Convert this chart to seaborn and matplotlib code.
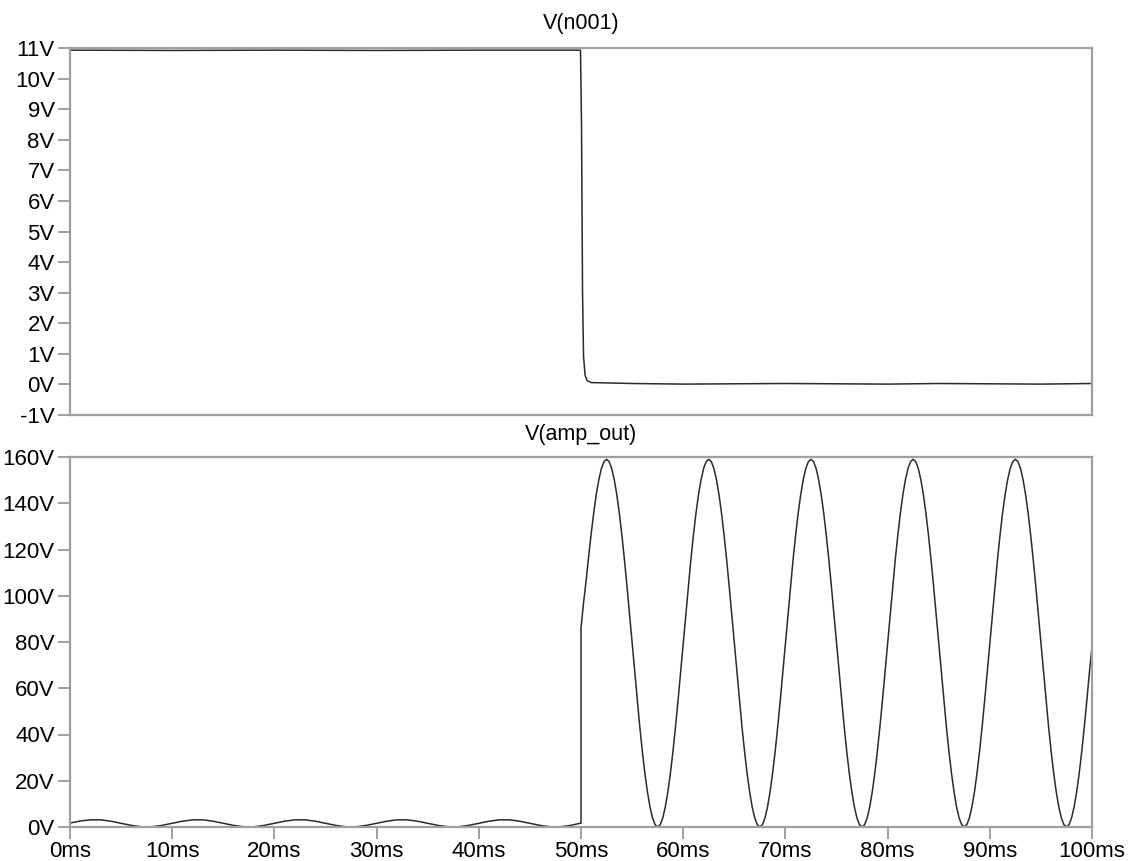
import matplotlib
matplotlib.use('Agg')
import matplotlib.pyplot as plt
import pandas as pd
import seaborn as sns

# V(n001): step from ~10.9V down to ~0V at 50ms (values in ms / V)
t_n001 = [0, 10, 20, 30, 40, 49.95, 50.05, 50.15, 50.25, 50.4, 50.6, 51.0,
          55, 60, 65, 70, 75, 80, 85, 90, 95, 100]
v_n001 = [10.93, 10.92, 10.93, 10.92, 10.93, 10.93, 8.5, 3.0, 0.9, 0.3, 0.12, 0.06,
          0.03, 0.01, 0.02, 0.03, 0.02, 0.01, 0.03, 0.02, 0.01, 0.03]

# V(amp_out): small ripple before 50ms ...
t_ripple = [0, 1, 2, 3, 4, 5, 6, 7, 8, 9,
            10, 11, 12, 13, 14, 15, 16, 17, 18, 19,
            20, 21, 22, 23, 24, 25, 26, 27, 28, 29,
            30, 31, 32, 33, 34, 35, 36, 37, 38, 39,
            40, 41, 42, 43, 44, 45, 46, 47, 48, 49, 50]
v_ripple = [1.7, 2.6, 3.1, 3.1, 2.5, 1.6, 0.7, 0.1, 0.1, 0.7,
            1.6, 2.5, 3.1, 3.1, 2.5, 1.6, 0.7, 0.1, 0.1, 0.7,
            1.6, 2.5, 3.1, 3.1, 2.5, 1.6, 0.7, 0.1, 0.1, 0.7,
            1.6, 2.5, 3.1, 3.1, 2.5, 1.6, 0.7, 0.1, 0.1, 0.7,
            1.6, 2.5, 3.1, 3.1, 2.5, 1.6, 0.7, 0.1, 0.1, 0.7, 1.7]

# ... then the large swing after 50ms (sampled every 0.25ms)
t_swing = [50.0, 50.25, 50.5, 50.75, 51.0, 51.25, 51.5, 51.75, 52.0, 52.25,
           52.5, 52.75, 53.0, 53.25, 53.5, 53.75, 54.0, 54.25, 54.5, 54.75,
           55.0, 55.25, 55.5, 55.75, 56.0, 56.25, 56.5, 56.75, 57.0, 57.25,
           57.5, 57.75, 58.0, 58.25, 58.5, 58.75, 59.0, 59.25, 59.5, 59.75,
           60.0, 60.25, 60.5, 60.75, 61.0, 61.25, 61.5, 61.75, 62.0, 62.25,
           62.5, 62.75, 63.0, 63.25, 63.5, 63.75, 64.0, 64.25, 64.5, 64.75,
           65.0, 65.25, 65.5, 65.75, 66.0, 66.25, 66.5, 66.75, 67.0, 67.25,
           67.5, 67.75, 68.0, 68.25, 68.5, 68.75, 69.0, 69.25, 69.5, 69.75,
           70.0, 70.25, 70.5, 70.75, 71.0, 71.25, 71.5, 71.75, 72.0, 72.25,
           72.5, 72.75, 73.0, 73.25, 73.5, 73.75, 74.0, 74.25, 74.5, 74.75,
           75.0, 75.25, 75.5, 75.75, 76.0, 76.25, 76.5, 76.75, 77.0, 77.25,
           77.5, 77.75, 78.0, 78.25, 78.5, 78.75, 79.0, 79.25, 79.5, 79.75,
           80.0, 80.25, 80.5, 80.75, 81.0, 81.25, 81.5, 81.75, 82.0, 82.25,
           82.5, 82.75, 83.0, 83.25, 83.5, 83.75, 84.0, 84.25, 84.5, 84.75,
           85.0, 85.25, 85.5, 85.75, 86.0, 86.25, 86.5, 86.75, 87.0, 87.25,
           87.5, 87.75, 88.0, 88.25, 88.5, 88.75, 89.0, 89.25, 89.5, 89.75,
           90.0, 90.25, 90.5, 90.75, 91.0, 91.25, 91.5, 91.75, 92.0, 92.25,
           92.5, 92.75, 93.0, 93.25, 93.5, 93.75, 94.0, 94.25, 94.5, 94.75,
           95.0, 95.25, 95.5, 95.75, 96.0, 96.25, 96.5, 96.75, 97.0, 97.25,
           97.5, 97.75, 98.0, 98.25, 98.5, 98.75, 99.0, 99.25, 99.5, 99.75,
           100.0]
v_swing = [86.0, 97.0, 106.5, 117.0, 127.0, 136.0, 144.0, 150.3, 155.1, 158.0,
           159.0, 158.0, 155.1, 150.3, 143.8, 135.7, 126.2, 115.6, 104.1, 91.9,
           79.5, 67.1, 54.9, 43.4, 32.8, 23.3, 15.2, 8.7, 3.9, 1.0,
           0.0, 1.0, 3.9, 8.7, 15.2, 23.3, 32.8, 43.4, 54.9, 67.1,
           79.5, 91.9, 104.1, 115.6, 126.2, 135.7, 143.8, 150.3, 155.1, 158.0,
           159.0, 158.0, 155.1, 150.3, 143.8, 135.7, 126.2, 115.6, 104.1, 91.9,
           79.5, 67.1, 54.9, 43.4, 32.8, 23.3, 15.2, 8.7, 3.9, 1.0,
           0.0, 1.0, 3.9, 8.7, 15.2, 23.3, 32.8, 43.4, 54.9, 67.1,
           79.5, 91.9, 104.1, 115.6, 126.2, 135.7, 143.8, 150.3, 155.1, 158.0,
           159.0, 158.0, 155.1, 150.3, 143.8, 135.7, 126.2, 115.6, 104.1, 91.9,
           79.5, 67.1, 54.9, 43.4, 32.8, 23.3, 15.2, 8.7, 3.9, 1.0,
           0.0, 1.0, 3.9, 8.7, 15.2, 23.3, 32.8, 43.4, 54.9, 67.1,
           79.5, 91.9, 104.1, 115.6, 126.2, 135.7, 143.8, 150.3, 155.1, 158.0,
           159.0, 158.0, 155.1, 150.3, 143.8, 135.7, 126.2, 115.6, 104.1, 91.9,
           79.5, 67.1, 54.9, 43.4, 32.8, 23.3, 15.2, 8.7, 3.9, 1.0,
           0.0, 1.0, 3.9, 8.7, 15.2, 23.3, 32.8, 43.4, 54.9, 67.1,
           79.5, 91.9, 104.1, 115.6, 126.2, 135.7, 143.8, 150.3, 155.1, 158.0,
           159.0, 158.0, 155.1, 150.3, 143.8, 135.7, 126.2, 115.6, 104.1, 91.9,
           79.5, 67.1, 54.9, 43.4, 32.8, 23.3, 15.2, 8.7, 3.9, 1.0,
           0.0, 1.0, 3.9, 8.7, 15.2, 23.3, 32.8, 43.4, 54.9, 67.1,
           78.0]

x_ticks = [0, 10, 20, 30, 40, 50, 60, 70, 80, 90, 100]
y_ticks_top = [-1, 0, 1, 2, 3, 4, 5, 6, 7, 8, 9, 10, 11]
y_ticks_bot = [0, 20, 40, 60, 80, 100, 120, 140, 160]

df_top = pd.DataFrame({"t": t_n001, "v": v_n001})
df_bot = pd.DataFrame({"t": t_ripple + t_swing, "v": v_ripple + v_swing})

sns.set_theme(style="white")
plt.rcParams['font.family'] = ['Liberation Sans', 'DejaVu Sans']

frame_col = "#a0a0a0"
trace_col = "#2b2b2b"

fig = plt.figure(figsize=(11.35, 8.61), dpi=100)
ax_top = fig.add_axes([70 / 1135, (861 - 415) / 861, 1022 / 1135, 367 / 861])
ax_bot = fig.add_axes([70 / 1135, (861 - 827) / 861, 1022 / 1135, 370 / 861])

sns.lineplot(data=df_top, x="t", y="v", ax=ax_top, color=trace_col, linewidth=1.1,
             estimator=None, sort=False)
sns.lineplot(data=df_bot, x="t", y="v", ax=ax_bot, color=trace_col, linewidth=1.1,
             estimator=None, sort=False)

for ax in (ax_top, ax_bot):
    ax.set_xlim(0, 100)
    ax.set_xlabel("")
    ax.set_ylabel("")
    for s in ax.spines.values():
        s.set_color(frame_col)
        s.set_linewidth(1.6)
    ax.tick_params(axis="y", direction="out", length=9, width=1.4, color=frame_col,
                   labelsize=16, pad=2, labelcolor="black", left=True)

ax_top.set_ylim(-1, 11)
ax_top.set_yticks(y_ticks_top)
ax_top.set_yticklabels([f"{v}V" for v in y_ticks_top])
ax_top.set_xticks([])
ax_top.set_title("V(n001)", fontsize=15.5, pad=14, color="black")

ax_bot.set_ylim(0, 160)
ax_bot.set_yticks(y_ticks_bot)
ax_bot.set_yticklabels([f"{v}V" for v in y_ticks_bot])
ax_bot.set_xticks(x_ticks)
ax_bot.set_xticklabels([f"{v}ms" for v in x_ticks])
ax_bot.tick_params(axis="x", direction="out", length=8.5, width=1.4, color=frame_col,
                   labelsize=16, pad=1.5, labelcolor="black", bottom=True)
ax_bot.set_title("V(amp_out)", fontsize=15.5, pad=12, color="black")

fig.savefig("out.png", dpi=100)
